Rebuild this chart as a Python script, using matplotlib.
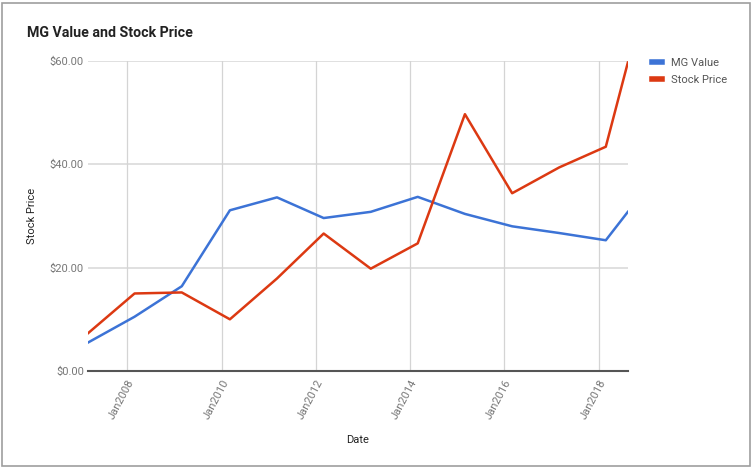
import matplotlib.pyplot as plt
import matplotlib.dates as mdates
from matplotlib.patches import Rectangle
from datetime import datetime

plt.rcParams['font.family'] = ['Roboto', 'DejaVu Sans']

# yearly data points (approx. dates)
dates = [datetime(2007, 3, 1), datetime(2008, 2, 25), datetime(2009, 2, 25),
         datetime(2010, 3, 5), datetime(2011, 3, 5), datetime(2012, 3, 1),
         datetime(2013, 3, 1), datetime(2014, 2, 28), datetime(2015, 3, 1),
         datetime(2016, 3, 1), datetime(2017, 3, 1), datetime(2018, 2, 25),
         datetime(2018, 8, 15)]
mg_value = [5.5, 10.5, 16.4, 31.1, 33.6, 29.6, 30.8, 33.7, 30.4, 28.0, 26.7, 25.3, 30.8]
stock_price = [7.3, 15.0, 15.2, 10.0, 17.9, 26.6, 19.8, 24.7, 49.7, 34.4, 39.4, 43.4, 59.7]

tick_years = [2008, 2010, 2012, 2014, 2016, 2018]
y_ticks = [0, 20, 40, 60]

blue = '#3c73d6'
red = '#dc3912'

fig = plt.figure(figsize=(7.54, 4.69), dpi=100)
ax = fig.add_axes([0.1167, 0.209, 0.716, 0.661])

ax.plot(dates, mg_value, color=blue, lw=1.8, label='MG Value', zorder=3)
ax.plot(dates, stock_price, color=red, lw=1.8, label='Stock Price', zorder=3)

ax.set_xlim(dates[0], dates[-1])
ax.set_ylim(0, 60)
ax.set_yticks(y_ticks)
ax.set_yticklabels(['$%.2f' % v for v in y_ticks])
ax.set_xticks([datetime(y, 1, 1) for y in tick_years])
ax.xaxis.set_major_formatter(mdates.DateFormatter('Jan%Y'))

for y in y_ticks[1:]:
    ax.axhline(y, color='#dddddd', lw=1.3, zorder=1)
for y in tick_years:
    ax.axvline(datetime(y, 1, 1), color='#d4d4d4', lw=0.9, zorder=1)
ax.axhline(0, color='#555555', lw=1.5, zorder=2, clip_on=False)

for s in ax.spines.values():
    s.set_visible(False)
ax.tick_params(length=0, colors='#777777', labelsize=8)
ax.tick_params(axis='y', pad=3)
ax.tick_params(axis='x', pad=5)
for lab in ax.get_xticklabels():
    lab.set_rotation(62)
    lab.set_ha('right')
    lab.set_rotation_mode('anchor')

ax.set_xlabel('Date', fontsize=8, color='#222222', labelpad=10)
ax.set_ylabel('Stock Price', fontsize=8, color='#222222', labelpad=9)

fig.text(27 / 754, 1 - 33 / 469, 'MG Value and Stock Price', fontsize=10.2,
         fontweight='bold', color='#222222', va='center', ha='left')

leg = fig.legend(loc='upper left', bbox_to_anchor=(0.852, 0.898), frameon=False,
                 fontsize=8, handlelength=0.9, handletextpad=0.8, labelspacing=0.65,
                 labelcolor='#555555')
for h in leg.legend_handles:
    h.set_linewidth(4)

fig.patches.append(Rectangle((2 / 754, 3 / 469), 748 / 754, 463 / 469,
                             transform=fig.transFigure, fill=False,
                             edgecolor='#9e9e9e', lw=1.2))

fig.savefig('out.png', dpi=100)
